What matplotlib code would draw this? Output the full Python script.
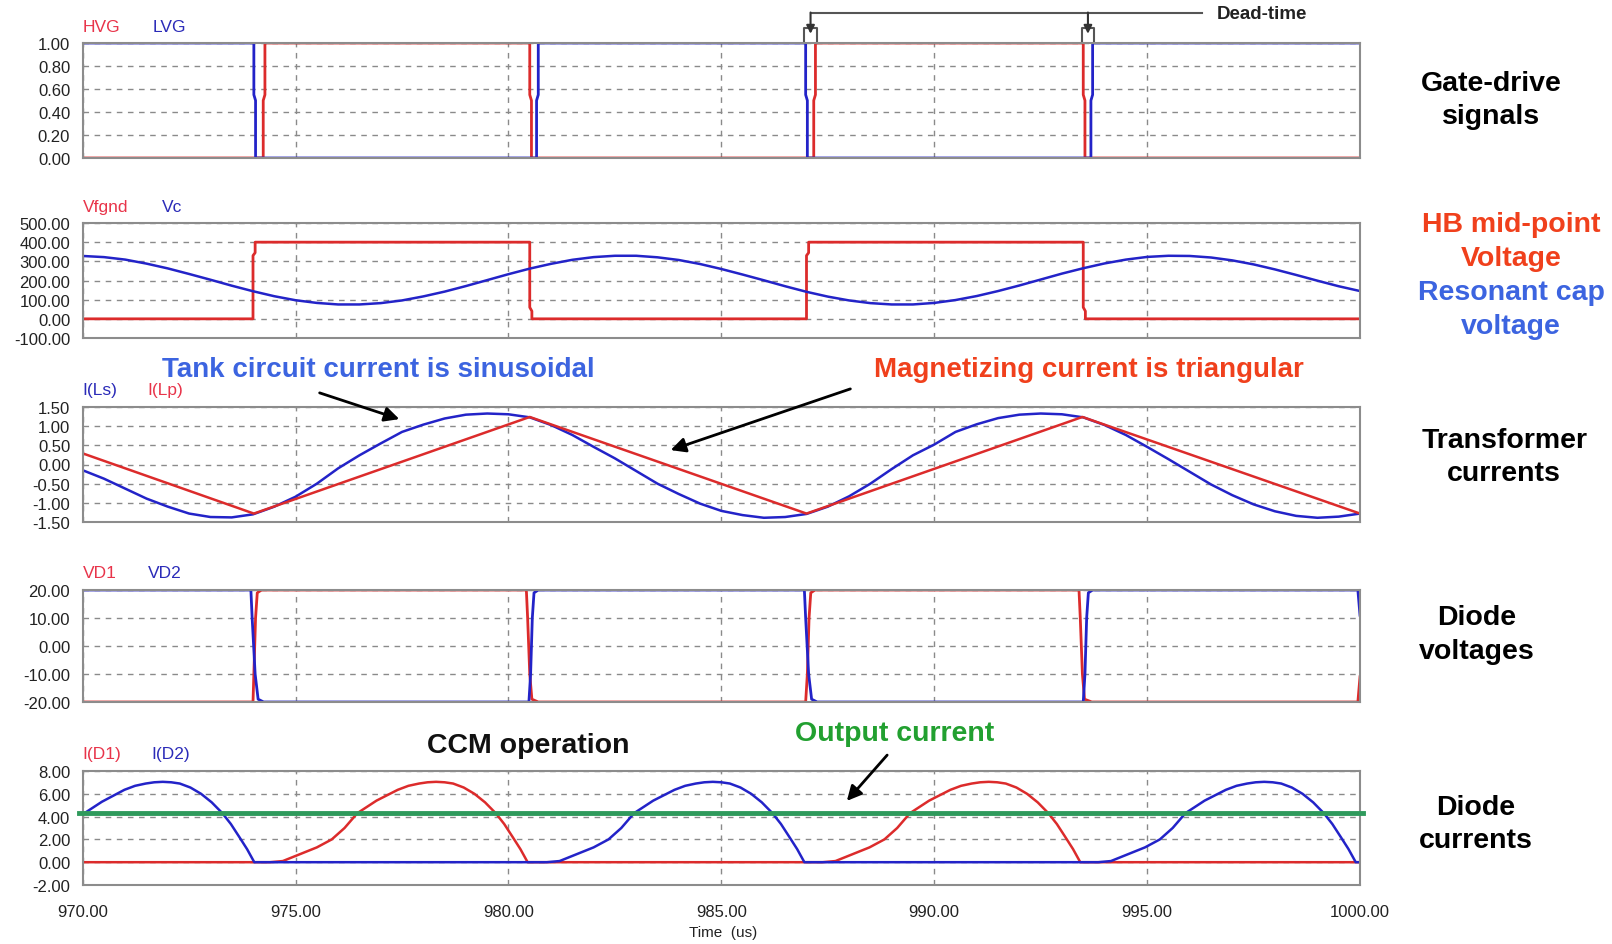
import matplotlib
matplotlib.use('Agg')
import matplotlib.pyplot as plt
import matplotlib.transforms as mtransforms
from matplotlib.ticker import FormatStrFormatter, MultipleLocator

plt.rcParams['font.family'] = ['Liberation Sans', 'DejaVu Sans']
plt.rcParams['axes.unicode_minus'] = False

# ---- gate drive signals (us, V normalised)
t_hvg = [970, 974.24, 974.24, 974.28, 974.28, 980.50, 980.50, 980.54, 980.54,
         987.17, 987.17, 987.21, 987.21, 993.50, 993.50, 993.54, 993.54, 1000]
hvg = [0, 0, 0.5, 0.55, 1, 1, 0.55, 0.5, 0, 0, 0.5, 0.55, 1, 1, 0.55, 0.5, 0, 0]
t_lvg = [970, 974.02, 974.02, 974.06, 974.06, 980.66, 980.66, 980.70, 980.70,
         986.98, 986.98, 987.02, 987.02, 993.68, 993.68, 993.72, 993.72, 1000]
lvg = [1, 1, 0.55, 0.5, 0, 0, 0.5, 0.55, 1, 1, 0.55, 0.5, 0, 0, 0.5, 0.55, 1, 1]
dead_times = [(986.95, 987.24), (993.46, 993.76)]

# ---- half-bridge mid-point and resonant cap voltage
t_vfg = [970, 974.00, 974.00, 974.05, 974.05, 980.50, 980.50, 980.55, 980.55,
         987.00, 987.00, 987.05, 987.05, 993.50, 993.50, 993.55, 993.55, 1000]
vfg = [0, 0, 330, 345, 400, 400, 60, 40, 0, 0, 330, 345, 400, 400, 60, 40, 0, 0]

t_grid = [970 + 0.5 * i for i in range(61)]
vc = [328, 322, 309, 288, 263, 234, 204, 173, 144, 118, 97, 83, 75, 75, 82, 96,
      117, 142, 171, 202, 233, 262, 287, 308, 322, 329, 329, 321, 307, 286, 260,
      231, 201, 170, 141, 116, 96, 82, 75, 75, 83, 98, 119, 145, 174, 205, 236,
      264, 289, 309, 323, 329, 328, 320, 305, 284, 258, 229, 199, 170, 145]

# ---- transformer currents
ils = [-0.15, -0.37, -0.63, -0.89, -1.10, -1.28, -1.37, -1.38, -1.30, -1.10,
       -0.84, -0.50, -0.10, 0.24, 0.55, 0.85, 1.04, 1.20, 1.30, 1.33, 1.31,
       1.23, 1.03, 0.77, 0.46, 0.16, -0.17, -0.50, -0.77, -1.02, -1.21, -1.32,
       -1.39, -1.37, -1.29, -1.10, -0.83, -0.50, -0.12, 0.24, 0.52, 0.85, 1.05,
       1.21, 1.30, 1.33, 1.31, 1.23, 1.03, 0.77, 0.46, 0.14, -0.19, -0.52, -0.80,
       -1.04, -1.22, -1.34, -1.39, -1.36, -1.28]
t_ilp = [970, 974.02, 980.50, 987.00, 993.48, 1000]
ilp = [0.29, -1.28, 1.24, -1.28, 1.24, -1.28]

# ---- diode voltages
t_vd1 = [970, 974.00, 974.02, 974.06, 974.10, 974.20, 980.42, 980.45, 980.50,
         980.55, 980.70, 986.98, 987.02, 987.06, 987.10, 987.20, 993.40, 993.43,
         993.48, 993.53, 993.70, 999.95, 1000]
vd1 = [-20, -20, -10, 10, 19, 20, 20, 10, -10, -19, -20, -20, -10, 10, 19, 20,
       20, 10, -10, -19, -20, -20, -11]
t_vd2 = [970, 973.95, 973.98, 974.05, 974.12, 974.25, 980.48, 980.52, 980.56,
         980.60, 980.70, 986.95, 986.98, 987.05, 987.12, 987.25, 993.50, 993.54,
         993.58, 993.62, 993.72, 999.95, 1000]
vd2 = [20, 20, 10, -10, -19, -20, -20, -10, 10, 19, 20, 20, 10, -10, -19, -20,
       -20, -10, 10, 19, 20, 20, 11]

# ---- diode currents
t_id1 = [970, 974.40, 974.70, 975.00, 975.50, 975.85, 976.15, 976.45, 976.90,
         977.40, 977.65, 977.90, 978.10, 978.30, 978.50, 978.70, 978.95, 979.20,
         979.45, 979.70, 979.90, 980.10, 980.28, 980.45,
         987.38, 987.68, 987.98, 988.48, 988.83, 989.13, 989.43, 989.88,
         990.38, 990.63, 990.88, 991.08, 991.28, 991.48, 991.68, 991.93, 992.18,
         992.43, 992.68, 992.88, 993.08, 993.26, 993.43, 1000]
id1 = [0, 0, 0.1, 0.55, 1.3, 2.0, 3.0, 4.3, 5.4, 6.35, 6.7, 6.9, 7.01, 7.05, 7.01,
       6.9, 6.55, 6.0, 5.25, 4.3, 3.35, 2.2, 1.15, 0,
       0, 0.1, 0.55, 1.3, 2.0, 3.0, 4.3, 5.4, 6.35, 6.7, 6.9, 7.01, 7.05, 7.01,
       6.9, 6.55, 6.0, 5.25, 4.3, 3.35, 2.2, 1.15, 0, 0]
t_id2 = [970, 970.45, 970.98, 971.23, 971.48, 971.68, 971.88, 972.08, 972.28,
         972.53, 972.78, 973.03, 973.28, 973.48, 973.68, 973.86, 974.03,
         980.90, 981.20, 981.50, 982.00, 982.35, 982.65, 982.95, 983.40,
         983.90, 984.15, 984.40, 984.60, 984.80, 985.00, 985.20, 985.45, 985.70,
         985.95, 986.20, 986.40, 986.60, 986.78, 986.95,
         993.85, 994.15, 994.45, 994.95, 995.30, 995.60, 995.90, 996.35,
         996.85, 997.10, 997.35, 997.55, 997.75, 997.95, 998.15, 998.40, 998.65,
         998.90, 999.15, 999.35, 999.55, 999.73, 999.90, 1000]
id2 = [4.2, 5.3, 6.35, 6.7, 6.9, 7.01, 7.05, 7.01, 6.9, 6.55, 6.0, 5.25, 4.3,
       3.35, 2.2, 1.15, 0,
       0, 0.1, 0.55, 1.3, 2.0, 3.0, 4.3, 5.4, 6.35, 6.7, 6.9, 7.01, 7.05, 7.01,
       6.9, 6.55, 6.0, 5.25, 4.3, 3.35, 2.2, 1.15, 0,
       0, 0.1, 0.55, 1.3, 2.0, 3.0, 4.3, 5.4, 6.35, 6.7, 6.9, 7.01, 7.05, 7.01,
       6.9, 6.55, 6.0, 5.25, 4.3, 3.35, 2.2, 1.15, 0, 0]
i_out = 4.3

RED = '#dc2b2b'
BLUE = '#2323c8'
LRED = '#e8344a'
LBLUE = '#2b2bb8'
ORANGE = '#f0401c'
SKY = '#3c64e0'

W, H = 1612, 945
X0, X1 = 82.7, 1360
fig = plt.figure(figsize=(W / 100, H / 100), dpi=100)


def fx(px):
    return px / W


def fy(py):
    return 1 - py / H


def panel(top, bottom, ylim, step, names, name_dx):
    ax = fig.add_axes([fx(X0), fy(bottom), (X1 - X0) / W, (bottom - top) / H])
    ax.set_xlim(970, 1000)
    ax.set_ylim(*ylim)
    ax.xaxis.set_major_locator(MultipleLocator(5))
    ax.yaxis.set_major_locator(MultipleLocator(step))
    ax.yaxis.set_major_formatter(FormatStrFormatter('%.2f'))
    ax.xaxis.set_major_formatter(FormatStrFormatter('%.2f'))
    ax.tick_params(length=0, labelsize=12, pad=9, colors='#222222')
    ax.tick_params(axis='x', labelbottom=False, pad=14)
    ax.grid(True, color='#8a8a8a', linestyle=(0, (4, 4)), lw=1)
    for s in ax.spines.values():
        s.set_color('#8c8c8c')
        s.set_linewidth(1.5)
    yl = 1 + 17 / (bottom - top)
    ax.text(0, yl, names[0], transform=ax.transAxes, color=LRED if names[2] == 'r' else LBLUE,
            fontsize=12.5, va='center', ha='left')
    ax.text(name_dx / (X1 - X0), yl, names[1], transform=ax.transAxes,
            color=LBLUE if names[2] == 'r' else LRED, fontsize=12.5, va='center', ha='left')
    return ax


ax1 = panel(44, 159, (0, 1), 0.2, ('HVG', 'LVG', 'r'), 70)
ax1.plot(t_hvg, hvg, color=RED, lw=2)
ax1.plot(t_lvg, lvg, color=BLUE, lw=2)

ax2 = panel(224, 339, (-100, 500), 100, ('Vfgnd', 'Vc', 'r'), 79)
ax2.plot(t_vfg, vfg, color=RED, lw=2)
ax2.plot(t_grid, vc, color=BLUE, lw=1.8)

ax3 = panel(408, 523, (-1.5, 1.5), 0.5, ('I(Ls)', 'I(Lp)', 'b'), 65)
ax3.plot(t_grid, ils, color=BLUE, lw=1.8)
ax3.plot(t_ilp, ilp, color=RED, lw=1.8)

ax4 = panel(591, 703, (-20, 20), 10, ('VD1', 'VD2', 'r'), 65)
ax4.plot(t_vd1, vd1, color=RED, lw=2)
ax4.plot(t_vd2, vd2, color=BLUE, lw=2)

ax5 = panel(772, 886, (-2, 8), 2, ('I(D1)', 'I(D2)', 'r'), 69)
ax5.plot(t_id1, id1, color=RED, lw=1.8)
ax5.plot(t_id2, id2, color=BLUE, lw=1.8)
ax5.axhline(i_out, xmin=-0.003, xmax=1.002, color='#2f9a5c', lw=3.5, clip_on=False, zorder=3)
ax5.tick_params(axis='x', labelbottom=True)

fig.text(fx(723), fy(933), 'Time  (us)', ha='center', va='center', fontsize=11, color='#222222')

# dead-time marker
tr = mtransforms.blended_transform_factory(ax1.transData, ax1.transAxes)
gray = '#555555'
arrow_x = []
for a, b in dead_times:
    ax1.plot([a, a, b, b], [1.0, 1.13, 1.13, 1.0], transform=tr, color=gray, lw=1.5, clip_on=False)
    arrow_x.append((a + b) / 2)
ax1.plot([arrow_x[0], 996.3], [1.26, 1.26], transform=tr, color=gray, lw=1.5, clip_on=False)
for x in arrow_x:
    ax1.annotate('', xy=(x, 1.08), xytext=(x, 1.265), xycoords=tr, textcoords=tr,
                 arrowprops=dict(arrowstyle='-|>', color='#333333', lw=1.5, mutation_scale=12,
                                 shrinkA=0, shrinkB=0))
ax1.text(996.64, 1.26, 'Dead-time', transform=tr, fontsize=13.5, fontweight='bold',
         va='center', ha='left', color='#222222')

# right-hand labels
right_labels = [
    ('Gate-drive', 1491, 91, 'black'), ('signals', 1491, 124, 'black'),
    ('HB mid-point', 1511, 232, ORANGE), ('Voltage', 1511, 266, ORANGE),
    ('Resonant cap', 1511, 300, SKY), ('voltage', 1511, 334, SKY),
    ('Transformer', 1505, 448, 'black'), ('currents', 1504, 481, 'black'),
    ('Diode', 1477, 625, 'black'), ('voltages', 1477, 659, 'black'),
    ('Diode', 1476, 815, 'black'), ('currents', 1476, 848, 'black'),
]
for s, x, y, c in right_labels:
    fig.text(fx(x), fy(y), s, ha='center', va='baseline', fontsize=20.5, fontweight='bold', color=c)

# call-outs
fig.text(fx(378), fy(377), 'Tank circuit current is sinusoidal', ha='center', va='baseline',
         fontsize=20, fontweight='bold', color=SKY)
fig.text(fx(1089), fy(377), 'Magnetizing current is triangular', ha='center', va='baseline',
         fontsize=20, fontweight='bold', color=ORANGE)
fig.text(fx(528), fy(753), 'CCM operation', ha='center', va='baseline',
         fontsize=20.5, fontweight='bold', color='#111111')
fig.text(fx(895), fy(741), 'Output current', ha='center', va='baseline',
         fontsize=20.5, fontweight='bold', color='#22a030')

arrows = [((317, 393), (402, 421)), ((853, 389), (668, 452)), ((889, 754), (845, 804))]
for (x0, y0), (x1, y1) in arrows:
    fig.add_artist(matplotlib.patches.FancyArrowPatch(
        (fx(x0), fy(y0)), (fx(x1), fy(y1)), transform=fig.transFigure,
        arrowstyle='-|>', mutation_scale=22, lw=2, color='black'))

fig.savefig('out.png', dpi=100, facecolor='white')
